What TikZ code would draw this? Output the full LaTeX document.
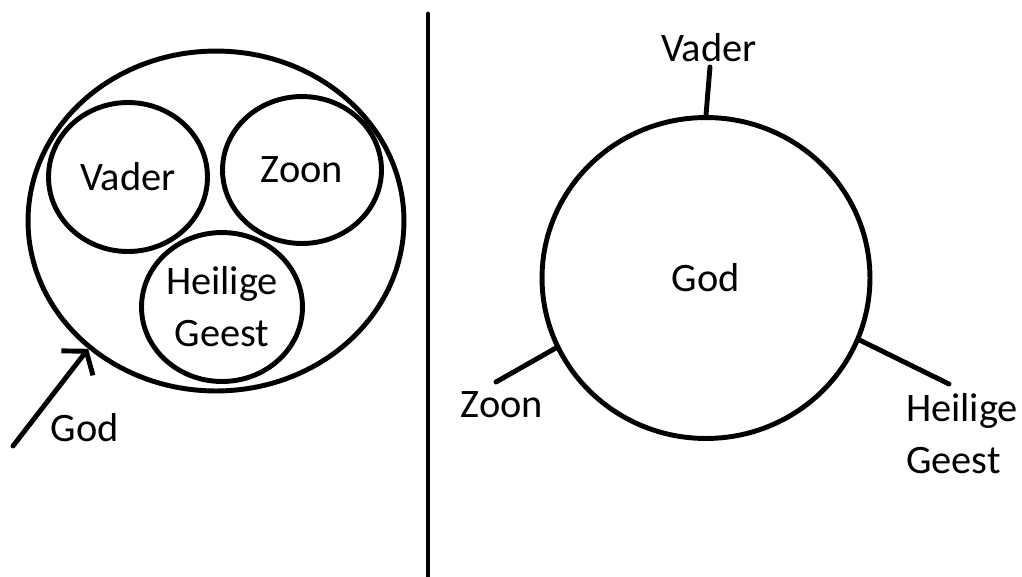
\documentclass[tikz,border=0pt]{standalone}
\usepackage{fontspec}
\setmainfont{Carlito}
\usetikzlibrary{arrows.meta}
\usetikzlibrary{shapes.geometric}

\begin{document}
\begin{tikzpicture}[x=0.02cm, y=-0.02cm, line width=2.8pt, line cap=round,
  >={Straight Barb[length=3mm,width=8mm]},
  every node/.style={font=\fontsize{23}{29.5}\selectfont, inner sep=0pt},
  blob/.style={ellipse, draw, line width=2.8pt}]
\useasboundingbox (0,0) rectangle (1022,576);
% links: drie personen binnen God
\node [blob, minimum width=7.52cm, minimum height=6.8cm, name=godL] at (216,221) {};
\node [blob, minimum width=3.18cm, minimum height=2.98cm, name=vaderL] at (128,177) {Vader};
\node [blob, minimum width=3.18cm, minimum height=2.94cm, name=zoonL] at (302,170) {Zoon};
\node [blob, minimum width=3.22cm, minimum height=2.98cm, align=center, name=geestL] at (222,307) {Heilige\\Geest};
\coordinate (godtail) at (13,446);
\draw [->] (godtail) -- (godL.225);
\node [name=godlabel] at (85,428) {God};
% scheidingslijn
\coordinate (divtop) at (428,14);
\coordinate (divbot) at (428,576);
\draw (divtop) -- (divbot);
% rechts: God met drie uitlopers
\node [blob, minimum width=6.56cm, minimum height=6.42cm, name=godR] at (706,278) {God};
\coordinate (vadertick) at (710,67);
\coordinate (zoontick) at (496,382);
\coordinate (geesttick) at (949,384);
\draw (godR.north) -- (vadertick);
\draw (godR.205) -- (zoontick);
\draw (godR.338) -- (geesttick);
\node [name=vaderR] at (709,48) {Vader};
\node [name=zoonR] at (502,405) {Zoon};
\node [align=left, name=geestR] at (962,434) {Heilige\\Geest};
\end{tikzpicture}
\end{document}
